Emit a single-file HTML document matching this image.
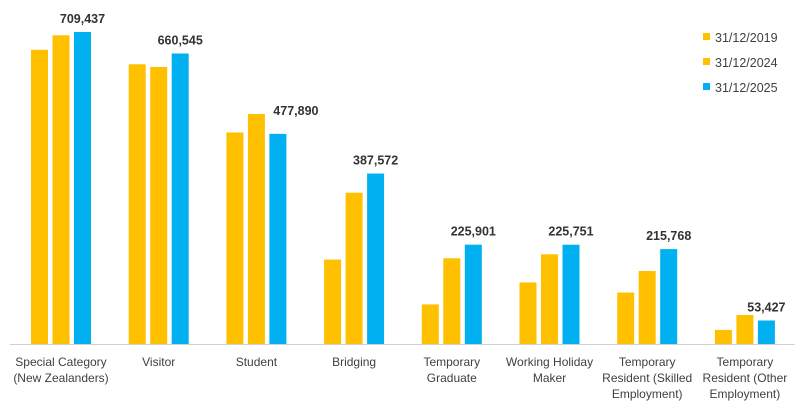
<!DOCTYPE html>
<html><head><meta charset="utf-8"><style>
body{margin:0;background:#fff;}
svg{display:block;font-family:"Liberation Sans",sans-serif;}
</style></head><body>
<svg id="chart" width="800" height="413"></svg>
<script>
const categories=[["Special Category","(New Zealanders)"],["Visitor"],["Student"],["Bridging"],["Temporary","Graduate"],["Working Holiday","Maker"],["Temporary","Resident (Skilled","Employment)"],["Temporary","Resident (Other","Employment)"]];
const seriesNames=["31/12/2019","31/12/2024","31/12/2025"];
const s2019=[669000,636000,481000,192000,90000,140000,117000,32000];
const s2024=[702000,630000,523000,344000,195000,204000,166000,66000];
const s2025=[709437,660545,477890,387572,225901,225751,215768,53427];
const colors=["#FFC000","#FFC000","#00B0F0"];
const NS="http://www.w3.org/2000/svg";
const svg=document.getElementById("chart");
const baseY=344, pxPerUnit=312/709437;
const y=v=>baseY-v*pxPerUnit;
const groupX=i=>31+i*97.7;
const barW=17, barStep=21.5;
function mk(tag,attrs,parent){const e=document.createElementNS(NS,tag);for(const k in attrs)e.setAttribute(k,attrs[k]);(parent||svg).appendChild(e);return e;}
const all=[s2019,s2024,s2025];
all.forEach((s,si)=>{
  s.forEach((v,i)=>{
    const r=mk("rect",{x:groupX(i)+si*barStep,y:y(v),width:barW,height:baseY-y(v),fill:colors[si]});
    
    
  });
});
s2025.forEach((v,i)=>{
  const others=Math.max(s2019[i],s2024[i]);
  let lx=groupX(i)+2*barStep+barW/2, ly=y(v)-9;
  if(y(others)<y(v)-15){ lx+=18; ly=y(others)+1; }
  else if(others>v){ ly=Math.min(ly,y(others)-3); }
  const t=mk("text",{x:lx,y:ly,"text-anchor":"middle","font-size":"12.5","font-weight":"bold",fill:"#333"});
  t.textContent=v.toLocaleString("en-US");
  
  
});
const ax=mk("line",{x1:10,x2:795,y1:baseY+0.5,y2:baseY+0.5,stroke:"#d0d0d0","stroke-width":1});


categories.forEach((lines,i)=>{
  const t=mk("text",{x:groupX(i)+barStep+barW/2,y:366,"text-anchor":"middle","font-size":"12",fill:"#404040"});
  
  
  lines.forEach((l,j)=>{const ts=mk("tspan",{x:groupX(i)+barStep+barW/2,dy:j?16:0},t);ts.textContent=l;});
});
seriesNames.forEach((n,i)=>{
  const g=mk("g",{});
  
  
  mk("rect",{x:703,y:33+i*25,width:7,height:7,fill:colors[i]},g);
  const t=mk("text",{x:715,y:42+i*25,"font-size":"12.5",fill:"#404040"},g);
  t.textContent=n;
});
</script>
</body></html>
